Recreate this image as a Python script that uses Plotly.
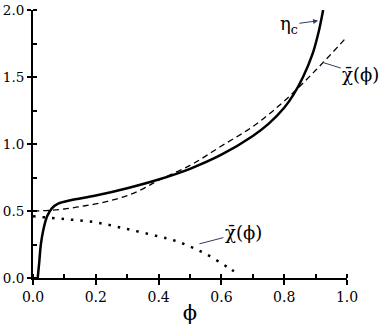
import plotly.graph_objects as go

# solid curve: eta_c(phi)
phi_eta = [0.015, 0.02, 0.025, 0.033, 0.045, 0.06, 0.08, 0.12, 0.2, 0.3, 0.4,
           0.5, 0.6, 0.7, 0.75, 0.8, 0.83, 0.86, 0.89, 0.91, 0.924]
eta_c = [0.0, 0.12, 0.25, 0.36, 0.46, 0.52, 0.555, 0.58, 0.615, 0.67, 0.735,
         0.815, 0.92, 1.06, 1.15, 1.27, 1.37, 1.50, 1.67, 1.84, 2.0]

# dashed curve: chi-bar(phi), upper branch
phi_chi = [0.0, 0.05, 0.1, 0.15, 0.2, 0.25, 0.3, 0.35, 0.4, 0.5, 0.6, 0.7,
           0.8, 0.9, 1.0]
chi_up = [0.5, 0.505, 0.515, 0.533, 0.553, 0.58, 0.615, 0.665, 0.73, 0.84,
          0.985, 1.13, 1.32, 1.55, 1.80]

# dotted curve: chi-bar(phi), lower branch
phi_dot = [0.0, 0.1, 0.2, 0.3, 0.4, 0.45, 0.5, 0.55, 0.6, 0.63, 0.65]
chi_low = [0.46, 0.44, 0.415, 0.365, 0.31, 0.28, 0.235, 0.18, 0.11, 0.065, 0.035]

FONT = "DejaVu Serif"

fig = go.Figure()
fig.add_trace(go.Scatter(x=phi_chi, y=chi_up, mode="lines", line_shape="spline",
                         line=dict(color="black", width=1.3, dash="6px,4px")))
fig.add_trace(go.Scatter(x=phi_dot, y=chi_low, mode="lines", line_shape="spline",
                         line=dict(color="black", width=2.5, dash="2.5px,7px")))
fig.add_trace(go.Scatter(x=phi_eta, y=eta_c, mode="lines", line_shape="spline",
                         line=dict(color="black", width=2.5)))

ann_font = dict(family=FONT, size=18, color="black")
fig.add_annotation(x=0.908, y=1.92, ax=0.815, ay=1.89, axref="x", ayref="y",
                   text="η<sub>c</sub>", showarrow=True, arrowhead=2,
                   arrowsize=1, arrowwidth=1, font=ann_font)
fig.add_annotation(x=0.921, y=1.61, ax=1.044, ay=1.52, axref="x", ayref="y",
                   text="χ̄(ϕ)", showarrow=True, arrowhead=0,
                   arrowwidth=1, font=ann_font)
fig.add_annotation(x=0.53, y=0.255, ax=0.67, ay=0.34, axref="x", ayref="y",
                   text="χ̄(ϕ)", showarrow=True, arrowhead=0,
                   arrowwidth=1, font=ann_font)

fig.update_xaxes(range=[0, 1], dtick=0.2, tickformat=".1f", automargin=False,
                 showline=True, linewidth=2, linecolor="black",
                 ticks="outside", ticklen=5, tickwidth=1.5, tickcolor="black",
                 minor=dict(dtick=0.1, ticks="inside", ticklen=4, tickwidth=1.5,
                            tickcolor="black"),
                 showgrid=False, zeroline=False,
                 tickfont=dict(family=FONT, size=14, color="black"),
                 title=dict(text="ϕ", font=dict(family=FONT, size=21, color="black"),
                            standoff=2))
fig.update_yaxes(range=[0, 2], dtick=0.5, tickformat=".1f", automargin=False,
                 showline=True, linewidth=2, linecolor="black",
                 ticks="outside", ticklen=4, tickwidth=1.5, tickcolor="black",
                 minor=dict(dtick=0.25, ticks="inside", ticklen=4, tickwidth=1.5,
                            tickcolor="black"),
                 showgrid=False, zeroline=False,
                 tickfont=dict(family=FONT, size=13.5, color="black"))

fig.update_layout(width=382, height=327, showlegend=False,
                  font=dict(family=FONT, color="black"),
                  margin=dict(l=33, r=35, t=10, b=49),
                  plot_bgcolor="white", paper_bgcolor="white")

# drop the page's default body margin so the figure sits at the top-left
fig.write_html("out.html", config={"displayModeBar": False},
               post_script="document.body.style.margin='0';")
